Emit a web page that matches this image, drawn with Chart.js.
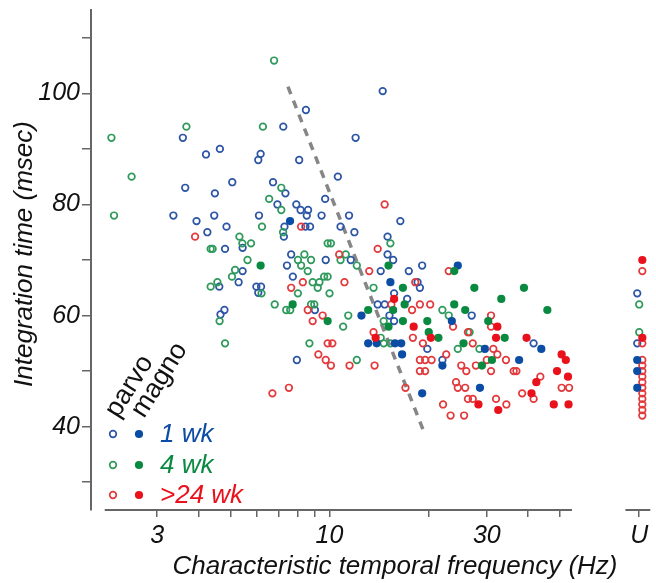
<!DOCTYPE html>
<html>
<head>
<meta charset="utf-8">
<script src="https://cdn.jsdelivr.net/npm/chart.js@4.4.0/dist/chart.umd.min.js"></script>
<style>
  html, body { margin: 0; padding: 0; background: #fff; }
  canvas { display: block; }
</style>
</head>
<body>
<canvas id="scatterChart" width="656" height="583"></canvas>
<script>
// [frequency Hz, integration time msec]
const parvo1wk = [[3.59,92],[4.65,90],[4.22,89],[6.18,89.1],[6.08,88],[7.24,94],[3.65,83],[5.07,84],[4.49,82],[6.74,84],[7.35,82],[6.95,80],[3.36,78],[4.47,78],[6.11,78],[3.95,77],[4.87,76],[4.26,75],[14.5,100.4],[8.48,97],[12.0,92],[8.09,88],[10.6,85],[7.93,80],[8.17,79],[8.61,79],[9.70,81],[8.53,78],[9.46,78],[11.46,78],[16.4,77],[7.30,76],[8.45,76],[8.73,76],[10.8,76],[11.9,75],[15.0,74.2],[7.27,74.2],[15.0,71],[15.6,70],[14.3,68],[17.4,68],[19.1,69],[7.65,71],[9.74,70],[11.6,70],[7.43,69],[7.74,67],[15.7,64],[18.5,66],[18.8,65],[17.2,63],[14.0,62],[14.7,62],[9.03,61],[15.2,60],[15.7,59],[27.0,60],[19.8,54],[22.0,52],[7.96,52],[5.45,72.2],[4.82,72],[5.45,68],[5.30,66],[4.63,65.2],[6.00,65.2],[6.20,65.2],[6.08,64.1],[4.80,61],[4.67,60.2],[41.6,55]];
const magno1wk = [[7.59,77],[24.5,69],[15.3,66],[12.5,60],[23.5,59],[22.0,51],[16.6,53],[13.1,55],[13.9,55],[15.8,55],[16.5,55],[19.1,46],[43.9,54],[29.6,54],[37.6,52],[28.6,47]];
const parvo4wk = [[6.79,105.9],[3.68,94],[2.18,92],[6.28,94],[2.51,85],[7.14,83],[6.56,81],[7.14,79],[2.22,78],[6.24,76],[5.33,74.2],[7.23,75],[15.3,73],[9.87,73],[10.1,73],[11.2,71],[12.1,69],[10.8,70],[8.02,70],[8.39,71],[8.79,70],[8.20,69],[8.59,68],[8.89,66],[9.32,66],[9.63,67],[9.87,67],[9.21,65],[8.02,64],[10.0,64],[13.6,65],[8.79,62],[8.99,62],[7.39,61],[7.60,61],[11.4,60],[14.6,59],[22.0,61],[23.0,60],[24.5,54],[14.3,56],[14.6,55],[15.3,55],[11.0,58],[8.69,55],[12.1,52],[28.5,54],[26.6,57],[5.78,73],[5.44,73],[4.36,72],[4.42,72],[5.64,70],[5.17,68.2],[5.06,67],[4.57,66],[4.36,65.2],[6.22,64],[6.82,62],[4.64,59],[4.82,55]];
const magno4wk = [[6.18,69],[15.1,69],[23.9,68],[16.7,65],[16.9,62],[13.1,61],[7.73,62],[9.87,59],[15.6,61],[16.7,59],[15.1,58],[19.8,59],[20.0,57],[21.4,56],[23.9,62],[25.8,61],[27.5,65],[25.5,55],[38.9,65],[33.2,63],[45.8,61],[30.3,59],[34.0,56],[31.1,52],[29.0,51]];
const parvo24wk = [[3.91,74.2],[14.7,80],[8.20,76],[14.0,72],[13.2,68],[23.0,68],[10.7,71],[8.30,66],[11.1,66],[7.65,65],[18.2,66],[15.4,62],[17.8,61],[18.8,62],[20.2,62],[8.59,61],[9.53,60],[8.89,59],[17.9,56],[19.2,55],[23.7,58],[26.3,57],[27.2,55],[22.6,53],[18.8,52],[19.5,52],[20.4,52],[18.8,50],[19.5,50],[25.1,51],[26.0,50],[13.6,57],[9.87,55],[10.2,55],[9.25,53],[9.74,52],[10.1,51],[11.5,51],[13.7,51],[7.53,47],[6.71,46],[17.0,47],[24.2,48],[24.5,47],[25.8,47],[22.1,44],[23.3,42],[25.6,42],[30.9,60],[30.9,58],[31.4,54],[32.3,53],[34.3,52],[30.0,52],[27.8,51],[30.9,50],[36.2,50],[36.9,50],[43.6,49],[38.4,46],[41.6,45],[50.6,47],[53.3,47],[26.3,45],[27.2,45],[32.0,45],[34.4,44]];
const magno24wk = [[15.7,63],[18.0,58],[20.3,56],[13.8,56],[32.3,58],[32.0,56],[39.6,56],[50.6,53],[52.1,52],[49.0,50],[52.9,49],[42.4,48],[41.0,46],[28.3,44],[47.9,44],[53.1,44],[32.5,43]];

// cells without a frequency, plotted in the "U" column (msec only)
const uParvo1wk = [64, 55];
const uMagno1wk = [52, 50, 47];
const uParvo4wk = [62, 57];
const uMagno4wk = [];
const uParvo24wk = [68, 55, 52, 51, 50, 49, 48, 47, 46, 45, 44, 43, 42];
const uMagno24wk = [70, 56];

// dashed boundary line
const boundary = [[7.48, 101.2], [19.3, 39.2]];

const xTicks = [3, 4, 5, 6, 7, 8, 9, 10, 20, 30, 40, 50];
const xTickLabels = ['3', '10', '30'];
const yTicks = [30, 40, 50, 60, 70, 80, 90, 100, 110];
const yTickLabels = [40, 60, 80, 100];
const legendLabels = ['1 wk', '4 wk', '>24 wk'];

const U_TICK = 87;
const U_X = { wk1: 85.8, wk4: 87, wk24: 88.9 };

const FONT = '"Liberation Sans", Arial, Helvetica, sans-serif';
const AXIS_COLOR = '#666';
const colors = {
  blueOpen: '#2c55a6', blueDot: '#0b4ca4',
  greenOpen: '#2f9a5c', greenDot: '#0a8a40',
  redOpen: '#e23a3c', redDot: '#e8111c'
};

function toPoints(pairs, uVals, ux) {
  return pairs.map(p => ({ x: p[0], y: p[1] }))
    .concat(uVals.map(v => ({ x: ux, y: v })));
}

function openSet(label, data, color) {
  return {
    label: label, data: data, showLine: false,
    pointStyle: 'circle', pointRadius: 3.3, pointBorderWidth: 1.7,
    pointBorderColor: color, pointBackgroundColor: 'rgba(0,0,0,0)',
    borderColor: color, backgroundColor: 'rgba(0,0,0,0)'
  };
}

function dotSet(label, data, color) {
  return {
    label: label, data: data, showLine: false,
    pointStyle: 'circle', pointRadius: 4.1, pointBorderWidth: 0,
    pointBackgroundColor: color, pointBorderColor: color,
    borderColor: color, backgroundColor: color
  };
}

const decor = {
  id: 'decor',
  afterDraw(chart) {
    const { ctx, chartArea, scales: { x } } = chart;
    ctx.save();

    // broken x axis line
    ctx.strokeStyle = AXIS_COLOR;
    ctx.lineWidth = 2;
    [[2.08, 54.4], [79, 94]].forEach(seg => {
      ctx.beginPath();
      ctx.moveTo(x.getPixelForValue(seg[0]), chartArea.bottom);
      ctx.lineTo(x.getPixelForValue(seg[1]), chartArea.bottom);
      ctx.stroke();
    });

    // axis titles
    ctx.fillStyle = '#111';
    ctx.font = 'italic 26px ' + FONT;
    ctx.textAlign = 'center';
    ctx.textBaseline = 'middle';
    ctx.fillText('Characteristic temporal frequency (Hz)', 395, 567);
    ctx.save();
    ctx.translate(25, 254);
    ctx.rotate(-Math.PI / 2);
    ctx.fillText('Integration time (msec)', 0, 0);
    ctx.restore();

    // legend
    const rows = [
      [colors.blueOpen, colors.blueDot, 434],
      [colors.greenOpen, colors.greenDot, 465],
      [colors.redOpen, colors.redDot, 495]
    ];
    rows.forEach((r, i) => {
      ctx.beginPath();
      ctx.arc(113, r[2], 3.3, 0, Math.PI * 2);
      ctx.strokeStyle = r[0];
      ctx.lineWidth = 1.7;
      ctx.stroke();
      ctx.beginPath();
      ctx.arc(139, r[2], 4.1, 0, Math.PI * 2);
      ctx.fillStyle = r[1];
      ctx.fill();
      ctx.font = 'italic 26px ' + FONT;
      ctx.textAlign = 'left';
      ctx.fillText(legendLabels[i], 160, r[2] + 1);
    });

    ctx.fillStyle = '#111';
    ctx.font = '27px ' + FONT;
    ctx.textAlign = 'left';
    ctx.textBaseline = 'alphabetic';
    [['parvo', 118, 419], ['magno', 144, 419]].forEach(t => {
      ctx.save();
      ctx.translate(t[1], t[2]);
      ctx.rotate(-58 * Math.PI / 180);
      ctx.fillText(t[0], 0, 0);
      ctx.restore();
    });
    ctx.restore();
  }
};

const ctx = document.getElementById('scatterChart').getContext('2d');
const scatterChart = new Chart(ctx, {
  type: 'scatter',
  data: {
    datasets: [
      dotSet('magno >24 wk', toPoints(magno24wk, uMagno24wk, U_X.wk24), colors.redDot),
      dotSet('magno 4 wk', toPoints(magno4wk, uMagno4wk, U_X.wk4), colors.greenDot),
      dotSet('magno 1 wk', toPoints(magno1wk, uMagno1wk, U_X.wk1), colors.blueDot),
      openSet('parvo >24 wk', toPoints(parvo24wk, uParvo24wk, U_X.wk24), colors.redOpen),
      openSet('parvo 4 wk', toPoints(parvo4wk, uParvo4wk, U_X.wk4), colors.greenOpen),
      openSet('parvo 1 wk', toPoints(parvo1wk, uParvo1wk, U_X.wk1), colors.blueOpen),
      {
        type: 'line',
        label: 'boundary',
        data: boundary.map(p => ({ x: p[0], y: p[1] })),
        borderColor: '#868686',
        borderWidth: 3.5,
        borderDash: [8, 7],
        pointRadius: 0,
        fill: false
      }
    ]
  },
  options: {
    responsive: false,
    animation: false,
    devicePixelRatio: 1,
    layout: { padding: { top: 10, left: 0, right: 0, bottom: 0 } },
    plugins: {
      legend: { display: false },
      tooltip: { enabled: false }
    },
    scales: {
      x: {
        type: 'logarithmic',
        min: 1.89,
        max: 94,
        border: { display: false },
        grid: { drawOnChartArea: false, tickLength: 7, color: AXIS_COLOR, lineWidth: 1.5 },
        ticks: {
          autoSkip: false,
          maxRotation: 0,
          padding: 4,
          color: '#111',
          font: { family: FONT, size: 25, style: 'italic' },
          callback: v => v === U_TICK ? 'U' : (xTickLabels.includes(String(v)) ? String(v) : '')
        },
        afterBuildTicks: s => { s.ticks = xTicks.concat([U_TICK]).map(v => ({ value: v })); },
        afterFit: s => { s.height = 73; s.paddingLeft = 0; s.paddingRight = 0; }
      },
      y: {
        min: 25,
        max: 115,
        border: { display: true, color: AXIS_COLOR, width: 2 },
        grid: { drawOnChartArea: false, tickLength: 9, color: AXIS_COLOR, lineWidth: 1.5 },
        ticks: {
          padding: 2,
          color: '#111',
          font: { family: FONT, size: 25, style: 'italic' },
          callback: v => yTickLabels.includes(v) ? String(v) : ''
        },
        afterBuildTicks: s => { s.ticks = yTicks.map(v => ({ value: v })); },
        afterFit: s => { s.width = 91; s.paddingTop = 0; s.paddingBottom = 0; }
      }
    }
  },
  plugins: [decor]
});
</script>
</body>
</html>
